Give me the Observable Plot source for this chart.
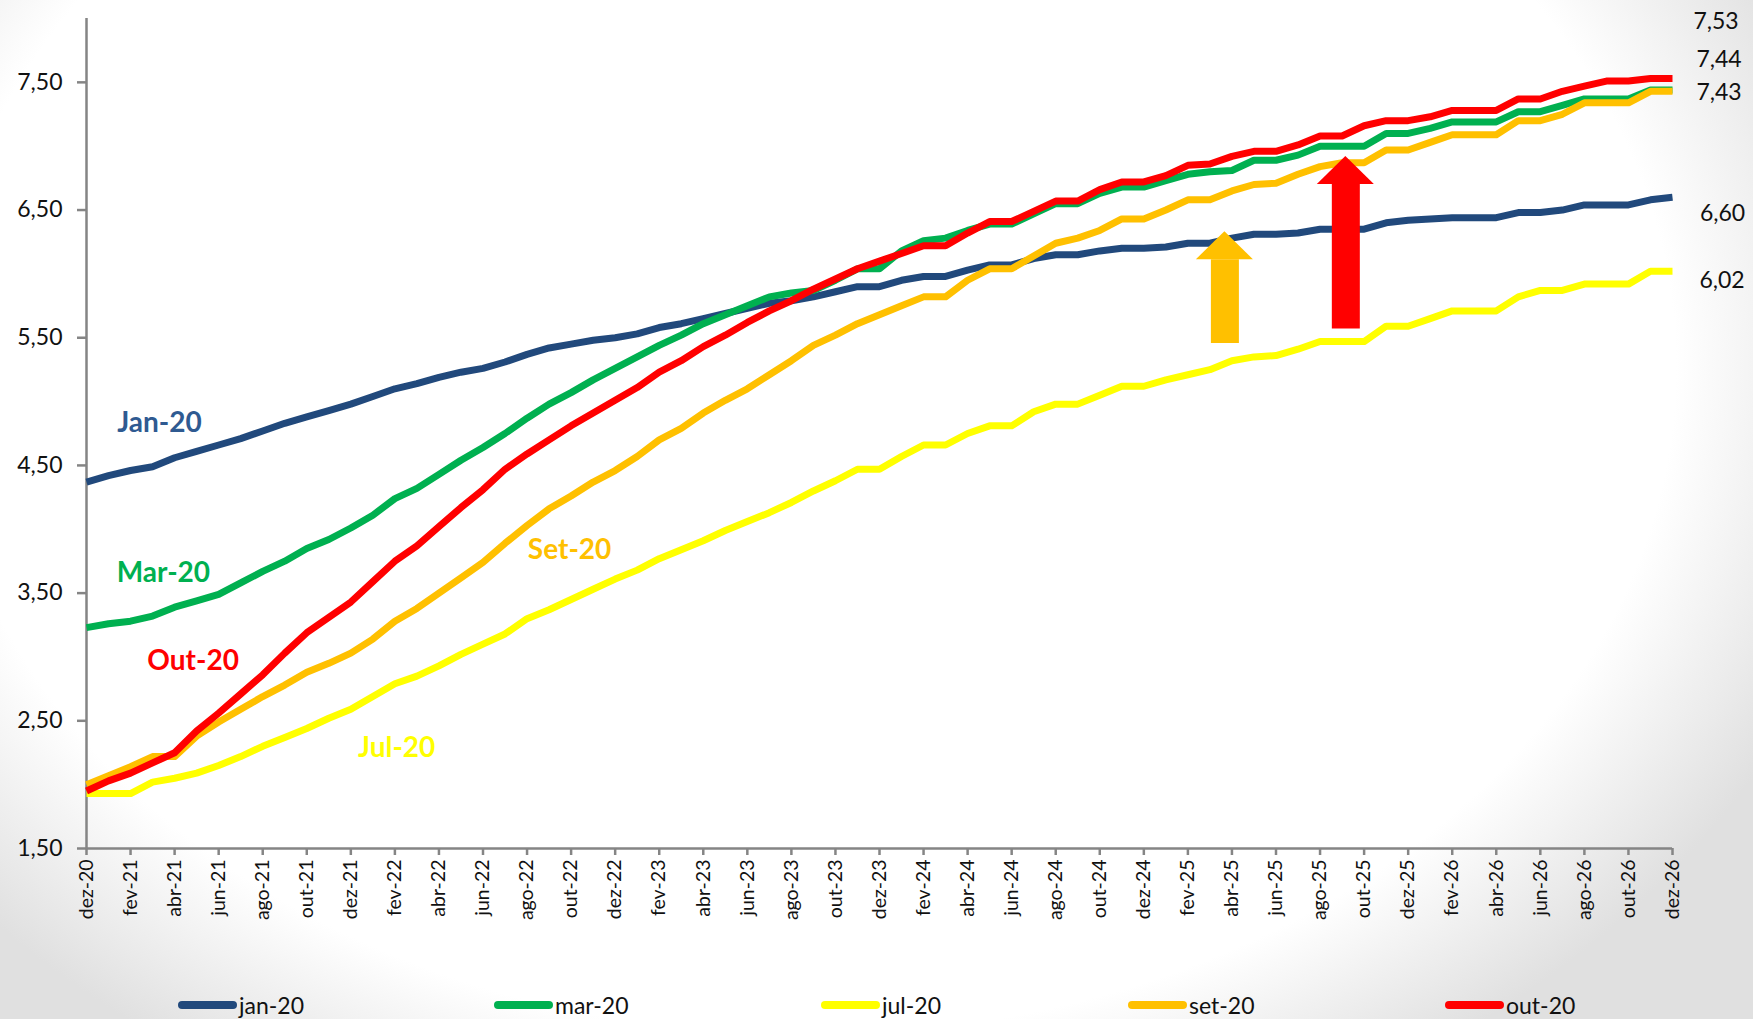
<!DOCTYPE html>
<html><head><meta charset="utf-8">
<script src="https://cdn.jsdelivr.net/npm/d3@7"></script>
<script src="https://cdn.jsdelivr.net/npm/@observablehq/plot@0.6"></script>
<style>
html,body{margin:0;padding:0;}
body{width:1753px;height:1019px;overflow:hidden;font-family:Lato,"Open Sans",sans-serif;
 background:radial-gradient(ellipse 62% 82% at 46% 36%, #ffffff 80%, #e0e0e0 100%);}
#wrap{position:relative;width:1753px;height:1019px;}
#legend{position:absolute;left:0;top:992px;width:1753px;height:26px;}
.item{position:absolute;top:0;display:flex;align-items:center;height:26px;font-size:23px;color:#111;}
.sw{width:59px;height:8px;border-radius:4px;margin-right:2px;}
</style></head>
<body><div id="wrap"><div id="chart"></div><div id="legend"></div></div>
<script>
// ---- data ----
const monthAbbr = ["jan","fev","mar","abr","mai","jun","jul","ago","set","out","nov","dez"];
const months = ["dez-20"];
for (let y = 21; y <= 26; y++) for (const m of monthAbbr) months.push(m + "-" + y);

const seriesNames = ["jan-20", "mar-20", "jul-20", "set-20", "out-20"];
const seriesColors = ["#21497C", "#00B050", "#FFFF00", "#FFC000", "#FF0000"];

const jan20 = [4.37,4.42,4.46,4.49,4.56,4.61,4.66,4.71,4.77,4.83,4.88,4.93,4.98,5.04,5.10,5.14,5.19,5.23,5.26,5.31,5.37,5.42,5.45,5.48,5.50,5.53,5.58,5.61,5.65,5.69,5.73,5.77,5.79,5.82,5.86,5.90,5.90,5.95,5.98,5.98,6.03,6.07,6.07,6.12,6.15,6.15,6.18,6.20,6.20,6.21,6.24,6.24,6.28,6.31,6.31,6.32,6.35,6.35,6.35,6.40,6.42,6.43,6.44,6.44,6.44,6.48,6.48,6.50,6.54,6.54,6.54,6.58,6.60];
const mar20 = [3.23,3.26,3.28,3.32,3.39,3.44,3.49,3.58,3.67,3.75,3.85,3.92,4.01,4.11,4.24,4.32,4.43,4.54,4.64,4.75,4.87,4.98,5.07,5.17,5.26,5.35,5.44,5.52,5.61,5.68,5.75,5.82,5.85,5.87,5.95,6.04,6.04,6.18,6.26,6.28,6.34,6.39,6.39,6.47,6.55,6.55,6.63,6.68,6.68,6.73,6.78,6.80,6.81,6.89,6.89,6.93,7.00,7.00,7.00,7.10,7.10,7.14,7.19,7.19,7.19,7.27,7.27,7.32,7.37,7.37,7.37,7.44,7.44];
const jul20 = [1.93,1.93,1.93,2.02,2.05,2.09,2.15,2.22,2.30,2.37,2.44,2.52,2.59,2.69,2.79,2.85,2.93,3.02,3.10,3.18,3.30,3.37,3.45,3.53,3.61,3.68,3.77,3.84,3.91,3.99,4.06,4.13,4.21,4.30,4.38,4.47,4.47,4.57,4.66,4.66,4.75,4.81,4.81,4.92,4.98,4.98,5.05,5.12,5.12,5.17,5.21,5.25,5.32,5.35,5.36,5.41,5.47,5.47,5.47,5.59,5.59,5.65,5.71,5.71,5.71,5.82,5.87,5.87,5.92,5.92,5.92,6.02,6.02];
const set20 = [2.00,2.07,2.14,2.22,2.22,2.38,2.49,2.59,2.69,2.78,2.88,2.95,3.03,3.14,3.28,3.38,3.50,3.62,3.74,3.89,4.03,4.16,4.26,4.37,4.46,4.57,4.70,4.79,4.91,5.01,5.10,5.21,5.32,5.44,5.52,5.61,5.68,5.75,5.82,5.82,5.95,6.04,6.04,6.14,6.24,6.28,6.34,6.43,6.43,6.50,6.58,6.58,6.65,6.70,6.71,6.78,6.84,6.87,6.87,6.97,6.97,7.03,7.09,7.09,7.09,7.20,7.20,7.25,7.34,7.34,7.34,7.43,7.43];
const out20 = [1.95,2.03,2.09,2.17,2.25,2.42,2.56,2.71,2.86,3.03,3.19,3.31,3.43,3.59,3.75,3.87,4.02,4.17,4.31,4.47,4.59,4.70,4.81,4.91,5.01,5.11,5.23,5.32,5.43,5.52,5.62,5.71,5.79,5.88,5.96,6.04,6.10,6.16,6.22,6.22,6.32,6.41,6.41,6.49,6.57,6.57,6.66,6.72,6.72,6.77,6.85,6.86,6.92,6.96,6.96,7.01,7.08,7.08,7.16,7.20,7.20,7.23,7.28,7.28,7.28,7.37,7.37,7.43,7.47,7.51,7.51,7.53,7.53];
const seriesValues = [jan20, mar20, jul20, set20, out20];

const yTicks = [1.5, 2.5, 3.5, 4.5, 5.5, 6.5, 7.5];

// in-chart series labels (month index, value)
const seriesLabels = [
  {text: "Jan-20", i: 3.31, v: 4.83, color: "#2F5A91"},
  {text: "Mar-20", i: 3.49, v: 3.66, color: "#00B050"},
  {text: "Out-20", i: 4.84, v: 2.97, color: "#FF0000"},
  {text: "Set-20", i: 21.93, v: 3.84, color: "#FFC000"},
  {text: "Jul-20", i: 14.08, v: 2.285, color: "#FFFF00"}
];
// end-value label offsets (px)
const endLabelOffsets = [
  {series: "out-20", dx: 43.5, dy: -57},
  {series: "mar-20", dx: 46.5, dy: -30},
  {series: "set-20", dx: 46.5, dy: 1},
  {series: "jan-20", dx: 50, dy: 16},
  {series: "jul-20", dx: 49.5, dy: 9.5}
];
// block arrows (month index, value from -> to)
const arrows = [
  {i: 51.68, from: 5.455, to: 6.33, color: "#FFC000"},
  {i: 57.17, from: 5.568, to: 6.92, color: "#FF0000"}
];

// ---- build ----
const fmt = d3.format(".2f");
const comma = v => fmt(v).replace(".", ",");
const rows = seriesNames.map((s, k) => seriesValues[k].map((v, i) => ({series: s, i, v})));
const last = Object.fromEntries(seriesNames.map((s, k) => [s, seriesValues[k][seriesValues[k].length - 1]]));

const headH = 28 / 127.67, headHalf = 28.5 / 22.014;

const marks = [
  Plot.ruleY([1.5], {stroke: "#858585", strokeWidth: 2.5}),
  Plot.ruleX([0], {stroke: "#858585", strokeWidth: 2.5}),
  Plot.axisY({ticks: yTicks, tickFormat: comma, tickSize: 9, tickPadding: 15, stroke: "#858585", strokeWidth: 2.5, fill: "#111", fontSize: 23}),
  Plot.axisX({ticks: d3.range(0, months.length, 2), tickFormat: i => months[i], tickSize: 7, tickPadding: 4, tickRotate: -90, stroke: "#858585", strokeWidth: 2.5, fill: "#111", fontSize: 19.5}),
  ...rows.map((r, k) => Plot.line(r, {x: "i", y: "v", stroke: seriesColors[k], strokeWidth: 7, strokeLinejoin: "round", strokeLinecap: "butt"})),
  ...arrows.map(a => Plot.ruleX([a], {x: "i", y1: "from", y2: d => d.to - headH, stroke: a.color, strokeWidth: 28})),
  ...arrows.map(a => Plot.areaY([
      {x: a.i - headHalf, y1: a.to - headH, y2: a.to - headH},
      {x: a.i, y1: a.to - headH, y2: a.to},
      {x: a.i + headHalf, y1: a.to - headH, y2: a.to - headH}
    ], {x: "x", y1: "y1", y2: "y2", fill: a.color})),
  Plot.text(seriesLabels, {x: "i", y: "v", text: "text", fill: d => d.color, fontSize: 28, fontWeight: "bold"}),
  ...endLabelOffsets.map(o => Plot.text([o], {x: () => months.length - 1, y: d => last[d.series], text: d => comma(last[d.series]), dx: o.dx, dy: o.dy, fill: "#111", fontSize: 23}))
];

const chart = Plot.plot({
  width: 1753, height: 935,
  marginLeft: 86, marginRight: 81, marginTop: 18, marginBottom: 87,
  style: {background: "transparent", fontFamily: "Lato, 'Open Sans', sans-serif", overflow: "visible"},
  x: {type: "linear", domain: [0, months.length - 1]},
  y: {domain: [1.5, 8.0]},
  color: {domain: seriesNames, range: seriesColors},
  marks
});
document.getElementById("chart").appendChild(chart);

// legend
const legendLeft = [178, 494, 821, 1128, 1445];
const legend = document.getElementById("legend");
seriesNames.forEach((s, k) => {
  const it = document.createElement("div");
  it.className = "item";
  it.style.left = legendLeft[k] + "px";
  const sw = document.createElement("div");
  sw.className = "sw";
  sw.style.background = seriesColors[k];
  const tx = document.createElement("span");
  tx.textContent = s;
  it.appendChild(sw); it.appendChild(tx);
  legend.appendChild(it);
});
</script></body></html>
